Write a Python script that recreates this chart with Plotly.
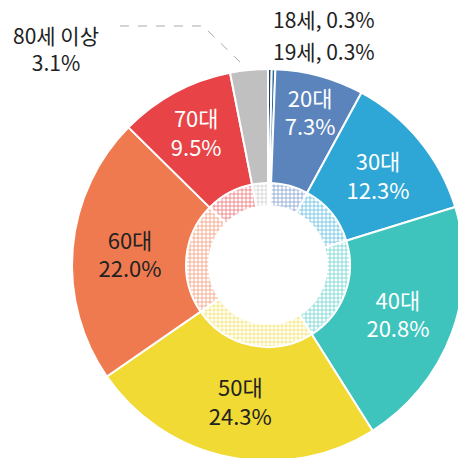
"""Donut chart: age group share (Plotly)."""
import plotly.graph_objects as go

W = H = 470  # a bit larger than the 458px window: the donut runs past the edge
FONT = "Noto Sans CJK KR"

labels = ["18세", "19세", "20대", "30대", "40대", "50대", "60대", "70대", "80세 이상"]
values = [0.3, 0.3, 7.3, 12.3, 20.8, 24.3, 22.0, 9.5, 3.1]
colors = ["#1c416b", "#2f6796", "#5b84bd", "#2ea7d6", "#3ec4bd",
          "#f0da33", "#f07a50", "#e84346", "#c0c0c0"]
light = ["#a4b3c4", "#aac0d5", "#c8d6ea", "#b6e0f2", "#bce9e6",
         "#faf0b4", "#fad0c0", "#f7bcbd", "#e8e8e8"]
text_colors = ["#222", "#222", "white", "white", "white", "#222", "#222", "white", "#222"]
inside = [False, False, True, True, True, True, True, True, False]


# pixel -> paper coordinate
def px_x(x):
    return x / W


def px_y(y):
    return (H - y) / H


# geometry in pixels
cx, cy = 268, 265
r_out, r_ring, r_hole = 196, 82, 59

texts = [f"{l}<br>{v}%" if ok else "" for l, v, ok in zip(labels, values, inside)]

fig = go.Figure()

# outer donut
fig.add_trace(go.Pie(
    labels=labels,
    values=values,
    sort=False,
    direction="clockwise",
    rotation=0,
    hole=(r_ring - 1) / r_out,
    marker=dict(colors=colors, line=dict(color="white", width=2)),
    text=texts,
    textinfo="text",
    textposition="inside",
    insidetextorientation="horizontal",
    textfont=dict(family=FONT, size=22, color=text_colors),
    hoverinfo="label+value",
    domain=dict(x=[px_x(cx - r_out), px_x(cx + r_out)],
                y=[px_y(cy + r_out), px_y(cy - r_out)]),
    showlegend=False,
))

# inner hatched ring
fig.add_trace(go.Pie(
    labels=labels,
    values=values,
    sort=False,
    direction="clockwise",
    rotation=0,
    hole=r_hole / r_ring,
    marker=dict(
        colors=light,
        line=dict(color="white", width=2),
        pattern=dict(shape="+", fgcolor=colors, size=4, solidity=0.3, fgopacity=0.9),
    ),
    textinfo="none",
    hoverinfo="label+value",
    domain=dict(x=[px_x(cx - r_ring), px_x(cx + r_ring)],
                y=[px_y(cy + r_ring), px_y(cy - r_ring)]),
    showlegend=False,
))

# outside labels for small slices
fig.add_annotation(x=px_x(271), y=px_y(19), xref="paper", yref="paper",
                   text=f"{labels[0]}, {values[0]}%", showarrow=False,
                   xanchor="left", yanchor="middle",
                   font=dict(family=FONT, size=21, color="#222"))
fig.add_annotation(x=px_x(271), y=px_y(51), xref="paper", yref="paper",
                   text=f"{labels[1]}, {values[1]}%", showarrow=False,
                   xanchor="left", yanchor="middle",
                   font=dict(family=FONT, size=21, color="#222"))
fig.add_annotation(x=px_x(56), y=px_y(48), xref="paper", yref="paper",
                   text=f"{labels[8]}<br>{values[8]}%", showarrow=False,
                   xanchor="center", yanchor="middle", align="center",
                   font=dict(family=FONT, size=21, color="#222"))

# dashed leader line for 80세 이상
pts = [(120, 26), (203, 26), (240, 62)]
path = "M " + " L ".join(f"{px_x(x):.4f},{px_y(y):.4f}" for x, y in pts)
fig.add_shape(type="path", path=path, xref="paper", yref="paper",
              line=dict(color="#aaaaaa", width=1, dash="dash"))

fig.update_layout(
    width=W,
    height=H,
    margin=dict(l=0, r=0, t=0, b=0),
    paper_bgcolor="white",
    plot_bgcolor="white",
    uniformtext=dict(minsize=22, mode="show"),
    font=dict(family=FONT),
)

# no body margin, no scrollbars: the window shows the top-left 458x458
fig.write_html(
    "out.html",
    config={"displayModeBar": False},
    post_script="document.body.style.margin='0'; document.body.style.overflow='hidden';",
)
